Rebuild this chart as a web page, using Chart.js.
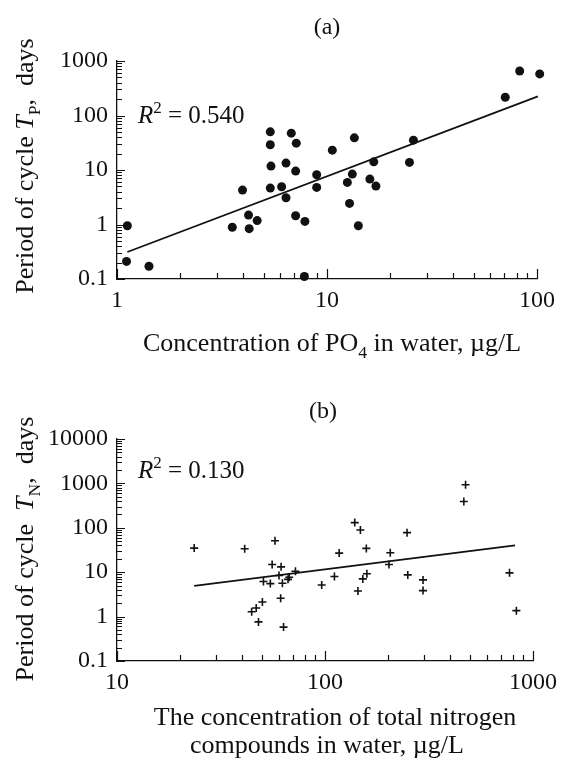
<!DOCTYPE html>
<html>
<head>
<meta charset="utf-8">
<script src="https://cdn.jsdelivr.net/npm/chart.js@4/dist/chart.umd.min.js"></script>
<style>
  html, body { margin: 0; background: #fff; }
  #wrap { position: relative; width: 564px; height: 758px; }
  #wrap canvas { position: absolute; left: 0; }
</style>
</head>
<body>
<div id="wrap">
  <canvas id="cA" width="564" height="380" style="top:0"></canvas>
  <canvas id="cB" width="564" height="378" style="top:380px"></canvas>
</div>
<script>
const FONT = '"Liberation Serif", "Times New Roman", serif';
const INK = "#111";

// (a) PO4 concentration, µg/L  vs  period of cycle T_P, days
const po4 = [1.12, 1.11, 1.42, 3.54, 3.96, 4.23, 4.26, 4.65, 5.37, 5.37, 5.41, 5.37, 6.08,
  6.38, 6.38, 6.76, 7.14, 7.09, 7.09, 7.85, 7.80, 8.93, 8.93, 10.6, 12.5, 12.8, 13.2, 13.5,
  14.1, 16.0, 16.7, 17.1, 24.7, 25.8, 70.6, 82.7, 103];
const periodP = [0.95, 0.21, 0.171, 0.89, 4.28, 1.49, 0.84, 1.18, 50.1, 29.0, 11.8, 4.66, 4.93,
  13.4, 3.10, 47.4, 31.1, 9.55, 1.45, 1.14, 0.111, 8.18, 4.79, 23.1, 5.92, 2.44, 8.41, 38.9,
  0.95, 6.81, 14.1, 5.07, 13.8, 35.3, 216, 656, 579];
const fitAx = [1.12, 101];
const fitAy = [0.313, 225];

// (b) total nitrogen, µg/L  vs  period of cycle T_N, days
const nitrogen = [23.5, 41.1, 57.5, 55.7, 61.5, 60.1, 72.1, 67.3, 66.4, 50.6, 54.6, 62.4, 61.2,
  50.0, 46.7, 44.4, 47.9, 63.2, 96.4, 111, 117, 139, 148, 158, 159, 152, 144, 206, 203, 248,
  250, 296, 296, 465, 474, 771, 832];
const periodN = [34.9, 33.7, 51.2, 14.9, 13.2, 8.4, 10.5, 7.7, 6.9, 6.15, 5.53, 5.63, 2.58,
  2.13, 1.56, 1.29, 0.76, 0.58, 5.16, 7.98, 26.9, 131, 89.3, 34.4, 9.2, 7.06, 3.78, 27.4, 14.9,
  77.8, 8.7, 6.7, 3.85, 391, 933, 9.66, 1.36];
const fitBx = [23.5, 820];
const fitBy = [4.9, 40];

const ticksAx = [1, 10, 100];
const ticksAy = [0.1, 1, 10, 100, 1000];
const ticksBx = [10, 100, 1000];
const ticksBy = [0.1, 1, 10, 100, 1000, 10000];

const pts = (xs, ys) => xs.map((x, i) => ({ x, y: ys[i] }));

// text in pieces: {t, it (italic), sub, sup}
function rich(ctx, parts, x, y, size, align) {
  const items = parts.map(p => {
    if (typeof p === "string") p = { t: p };
    const s = p.sub || p.sup ? size * 0.68 : size;
    const f = (p.it ? "italic " : "") + s + "px " + FONT;
    ctx.font = f;
    return { t: p.t, f, w: ctx.measureText(p.t).width, dy: p.sub ? size * 0.28 : p.sup ? -size * 0.4 : 0 };
  });
  const total = items.reduce((a, p) => a + p.w, 0);
  let cx = align === "center" ? x - total / 2 : x;
  ctx.textAlign = "left"; ctx.textBaseline = "alphabetic"; ctx.fillStyle = INK;
  items.forEach(p => { ctx.font = p.f; ctx.fillText(p.t, cx, y + p.dy); cx += p.w; });
}

const labelsPlugin = list => ({
  id: "labels",
  afterDraw(chart) {
    const ctx = chart.ctx;
    list.forEach(l => {
      ctx.save();
      if (l.rot) { ctx.translate(l.x, l.y); ctx.rotate(-Math.PI / 2); rich(ctx, l.parts, 0, 0, l.size, "center"); }
      else rich(ctx, l.parts, l.x, l.y, l.size, l.align);
      ctx.restore();
    });
  },
});

// minor/major log ticks pointing into the plot
function logSteps(min, max) {
  const out = [];
  for (let e = Math.floor(Math.log10(min)); e <= Math.ceil(Math.log10(max)); e++)
    for (let k = 1; k <= 9; k++) {
      const v = k * Math.pow(10, e);
      if (v >= min * 0.999 && v <= max * 1.001) out.push([v, k === 1]);
    }
  return out;
}
const inTicks = {
  id: "inTicks",
  afterDraw(chart) {
    const { ctx, chartArea: a, scales: { x, y } } = chart;
    ctx.save(); ctx.strokeStyle = INK; ctx.lineWidth = 1.2; ctx.beginPath();
    logSteps(x.min, x.max).forEach(([v, major]) => {
      const px = Math.round(x.getPixelForValue(v)) + 0.5;
      ctx.moveTo(px, a.bottom); ctx.lineTo(px, a.bottom - (major ? 10 : 6));
    });
    logSteps(y.min, y.max).forEach(([v, major]) => {
      const py = Math.round(y.getPixelForValue(v)) + 0.5;
      ctx.moveTo(a.left, py); ctx.lineTo(a.left + (major ? 8 : 5), py);
    });
    ctx.stroke(); ctx.restore();
  },
};

function axis(min, max, ticks, fit) {
  return {
    type: "logarithmic", min, max,
    grid: { display: false, drawTicks: false },
    border: { display: true, color: INK, width: 1.3 },
    afterBuildTicks: s => { s.ticks = ticks.map(v => ({ value: v })); },
    afterFit: fit,
    ticks: { color: INK, font: { family: FONT, size: 24 }, autoSkip: false, maxRotation: 0,
             callback: v => String(v) },
  };
}

function makeChart(id, dots, fit, xs, ys, o) {
  const x = axis(o.xmin, o.xmax, xs, s => { s.height = o.xh; });
  x.ticks.padding = 7;
  const y = axis(o.ymin, o.ymax, ys, s => { s.width = 117; });
  y.ticks.padding = 9;
  return new Chart(document.getElementById(id), {
    type: "scatter",
    data: {
      datasets: [
        Object.assign({ data: dots, clip: false, borderColor: INK, backgroundColor: INK }, o.mark),
        { data: fit, showLine: true, pointRadius: 0, borderColor: INK, borderWidth: 1.8, clip: false },
      ],
    },
    options: {
      responsive: false, animation: false, events: [],
      layout: { padding: { top: o.top, right: 27, left: 0, bottom: 0 } },
      plugins: { legend: { display: false }, tooltip: { enabled: false } },
      scales: { x, y },
    },
    plugins: [inTicks, labelsPlugin(o.labels)],
  });
}

makeChart("cA", pts(po4, periodP), pts(fitAx, fitAy), ticksAx, ticksAy, {
  xmin: 1, xmax: 100, ymin: 0.1, ymax: 1000, top: 61, xh: 101,
  mark: { pointStyle: "circle", pointRadius: 4.5, borderWidth: 0 },
  labels: [
    { parts: ["(a)"], x: 327, y: 34, size: 24, align: "center" },
    { parts: [{ t: "R", it: 1 }, { t: "2", sup: 1 }, " = 0.540"], x: 138, y: 123, size: 25 },
    { parts: ["Concentration of PO", { t: "4", sub: 1 }, " in water, µg/L"], x: 332, y: 351, size: 26, align: "center" },
    { parts: ["Period of cycle ", { t: "T", it: 1 }, { t: "P", sub: 1 }, ",  days"], x: 33, y: 166, size: 26, rot: 1 },
  ],
});

makeChart("cB", pts(nitrogen, periodN), pts(fitBx, fitBy), ticksBx, ticksBy, {
  xmin: 10, xmax: 1000, ymin: 0.1, ymax: 10000, top: 59, xh: 97,
  mark: { pointStyle: "cross", pointRadius: 4, borderWidth: 1.6 },
  labels: [
    { parts: ["(b)"], x: 323, y: 38, size: 24, align: "center" },
    { parts: [{ t: "R", it: 1 }, { t: "2", sup: 1 }, " = 0.130"], x: 138, y: 98, size: 25 },
    { parts: ["The concentration of total nitrogen"], x: 335, y: 345, size: 26, align: "center" },
    { parts: ["compounds in water, µg/L"], x: 327, y: 373, size: 26, align: "center" },
    { parts: ["Period of cycle  ", { t: "T", it: 1 }, { t: "N", sub: 1 }, ",  days"], x: 33, y: 169, size: 26, rot: 1 },
  ],
});
</script>
</body>
</html>
